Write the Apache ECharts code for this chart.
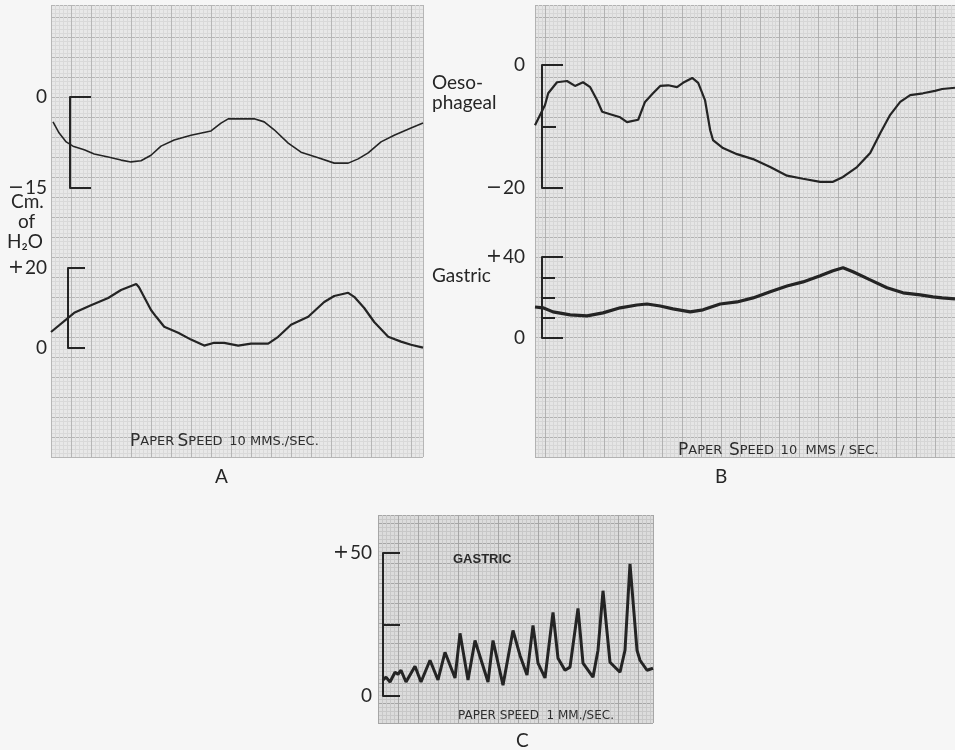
<!DOCTYPE html>
<html>
<head>
<meta charset="utf-8">
<script src="https://cdn.jsdelivr.net/npm/echarts@6/dist/echarts.min.js"></script>
<style>
  html, body { margin: 0; padding: 0; background: #f6f6f6; }
  #chart { width: 955px; height: 750px; }
</style>
</head>
<body>
<div id="chart"></div>
<script>
// time in seconds (paper speed 10 mm/s for A and B, 1 mm/s for C), pressure in cm H2O

// A, upper trace (oesophageal)
const timeA1 = [0.05, 0.2, 0.38, 0.55, 0.83, 1.08, 1.43, 1.75, 2.0, 2.25, 2.5, 2.75, 3.08, 3.5, 4.0, 4.25, 4.43,
  5.08, 5.33, 5.58, 5.93, 6.25, 6.68, 7.08, 7.43, 7.68, 7.93, 8.25, 8.58, 9.0, 9.3];
const pressA1 = [-4.1, -5.9, -7.4, -8.1, -8.7, -9.4, -9.9, -10.4, -10.7, -10.5, -9.6, -8.1, -7.1, -6.3, -5.6, -4.3, -3.6,
  -3.6, -4.1, -5.4, -7.6, -9.1, -10.0, -10.9, -10.9, -10.2, -9.2, -7.4, -6.3, -5.1, -4.3];

// A, lower trace (gastric)
const timeA2 = [0, 0.58, 1.0, 1.43, 1.75, 2.13, 2.2, 2.5, 2.63, 2.83, 3.18, 3.5, 3.83, 4.08, 4.33, 4.68,
  5.0, 5.43, 5.68, 6.0, 6.43, 6.83, 7.08, 7.43, 7.58, 7.83, 8.08, 8.43, 8.75, 9.0, 9.3];
const pressA2 = [4.0, 8.8, 10.7, 12.5, 14.5, 16.0, 15.2, 9.5, 7.8, 5.3, 3.8, 2.1, 0.6, 1.3, 1.3, 0.6,
  1.1, 1.1, 2.8, 5.8, 7.8, 11.5, 13.0, 13.8, 12.8, 10.0, 6.5, 2.8, 1.6, 0.8, 0.1];

// B, oesophageal
const timeB1 = [0, 0.25, 0.33, 0.55, 0.8, 1.0, 1.2, 1.38, 1.55, 1.68, 1.88, 2.13, 2.3, 2.58, 2.75,
  2.95, 3.13, 3.33, 3.55, 3.7, 3.93, 4.08, 4.25, 4.38, 4.45, 4.7, 5.05, 5.45, 5.88, 6.3,
  6.7, 7.13, 7.45, 7.7, 8.05, 8.38, 8.63, 8.88, 9.13, 9.38, 9.7, 10.0, 10.18, 10.5];
const pressB1 = [-9.8, -6.5, -4.6, -2.8, -2.6, -3.4, -2.8, -3.6, -5.7, -7.6, -8.0, -8.5, -9.3, -8.9, -6.0,
  -4.6, -3.4, -3.3, -3.6, -2.9, -2.1, -2.9, -5.7, -10.6, -12.2, -13.5, -14.5, -15.3, -16.6, -18.0,
  -18.5, -19.0, -19.0, -18.2, -16.6, -14.3, -11.1, -8.1, -6.0, -4.9, -4.6, -4.2, -3.9, -3.7];

// B, gastric
const timeB2 = [0, 0.2, 0.45, 0.88, 1.3, 1.7, 2.13, 2.55, 2.8, 3.13, 3.45, 3.88, 4.2, 4.63, 5.05,
  5.45, 5.88, 6.3, 6.7, 7.13, 7.45, 7.7, 7.95, 8.38, 8.8, 9.2, 9.63, 9.95, 10.18, 10.5];
const pressB2 = [15.3, 14.9, 12.9, 11.4, 10.9, 12.4, 14.9, 16.3, 16.8, 15.8, 14.4, 12.9, 13.9, 16.8, 17.8,
  19.8, 22.8, 25.7, 27.7, 30.7, 33.2, 34.7, 32.7, 28.7, 24.8, 22.3, 21.3, 20.3, 19.8, 19.3];

// C, gastric at 1 mm/s
const timeC = [1.25, 2, 3, 4.25, 5, 5.75, 7, 9.25, 10.75, 13, 15, 16.75, 19.25, 20.5, 22.5,
  24.25, 27.5, 28.75, 31.25, 33.75, 35.5, 37.25, 38.75, 40, 41.75, 43.75, 45, 46.75, 48, 50,
  51.25, 53.75, 55, 56.25, 58, 60.5, 61.75, 63, 64.75, 65.5, 67.25, 68.75];
const pressC = [5.6, 6.6, 4.9, 8.3, 7.6, 9.0, 4.9, 10.4, 4.9, 12.5, 5.6, 15.3, 6.3, 21.9, 5.6,
  19.4, 4.9, 19.4, 3.8, 22.9, 14.2, 7.3, 24.7, 11.5, 6.3, 29.2, 13.2, 9.0, 10.1, 30.6,
  11.5, 6.6, 16.0, 36.8, 11.8, 8.3, 16.0, 46.2, 16.0, 12.5, 9.0, 9.7];

const ink = '#242424';
const labelFont = 'Lato, "Open Sans", sans-serif';

function zip (xs, ys) {
  return xs.map((x, i) => [x, ys[i]]);
}

// graph paper background: axes in pixels, 20 px major squares, 4 px minor
function paperAxis (gridIndex, max, inverse, major, minor) {
  return {
    type: 'value', gridIndex, min: 0, max, interval: 20, inverse,
    axisLine: { show: false }, axisTick: { show: false }, axisLabel: { show: false },
    splitLine: { show: true, lineStyle: { color: major, width: 1 } },
    minorTick: { show: false, splitNumber: 5 },
    minorSplitLine: { show: true, lineStyle: { color: minor, width: 1 } }
  };
}

function hiddenX (gridIndex, max) {
  return { type: 'value', gridIndex, min: 0, max, show: false };
}

function hiddenY (gridIndex, min, max) {
  return { type: 'value', gridIndex, min, max, show: false };
}

// +/- signs drawn wider, like the printed figure
const signRich = {
  sg: { fontFamily: '"DejaVu Sans", sans-serif', fontSize: 19, color: '#262626', padding: [0, 1, 0, 0] }
};

function signed (v, top) {
  if (v === 0) return '0';
  return v > 0 ? '{sg|+}' + top : '{sg|\u2212}' + Math.abs(v);
}

// calibration bracket drawn as a y axis with inward ticks
function bracketAxis (gridIndex, min, max, interval, tickLen, minorSplit, minorLen, margin, fmt) {
  return {
    type: 'value', gridIndex, min, max, interval, z: 5,
    axisLine: { show: true, lineStyle: { color: ink, width: 2 } },
    axisTick: { show: true, inside: true, length: tickLen, lineStyle: { color: ink, width: 2 } },
    minorTick: { show: minorSplit > 1, splitNumber: minorSplit || 5, length: minorLen, lineStyle: { color: ink, width: 2 } },
    splitLine: { show: false },
    axisLabel: { show: true, margin, color: '#262626', fontFamily: labelFont, fontSize: 19, formatter: fmt, rich: signRich }
  };
}

function trace (name, idx, data, width) {
  return {
    name, type: 'line', xAxisIndex: idx, yAxisIndex: idx, data, z: 10,
    showSymbol: false, symbol: 'none', smooth: false,
    lineStyle: { color: ink, width },
    emphasis: { disabled: true }
  };
}

function txt (left, top, text, size, opts) {
  return {
    type: 'text', left, top, z: 100,
    style: Object.assign({ text, fill: '#262626', font: size + 'px ' + labelFont }, opts || {})
  };
}

const speedRich = {
  p: { fontSize: 17, fontFamily: '"DejaVu Sans", sans-serif', fill: '#2e2e2e' },
  s: { fontSize: 13, fontFamily: '"DejaVu Sans", sans-serif', fill: '#2e2e2e' }
};

const chart = echarts.init(document.getElementById('chart'));

const option = {
  backgroundColor: '#f6f6f6',
  animation: false,
  grid: [
    { left: 51, top: 5, width: 372, height: 452, show: true, backgroundColor: '#e8e8e8', borderWidth: 0 },
    { left: 535, top: 5, width: 431, height: 452, show: true, backgroundColor: '#e5e5e5', borderWidth: 0 },
    { left: 378, top: 515, width: 275, height: 208, show: true, backgroundColor: '#dcdcdc', borderWidth: 0 },
    { left: 51, top: 97, width: 372, height: 91 },
    { left: 51, top: 268, width: 372, height: 80 },
    { left: 535, top: 65, width: 420, height: 123 },
    { left: 535, top: 257, width: 420, height: 81 },
    { left: 378, top: 553, width: 275, height: 143 },
    { left: 70, top: 97, width: 22, height: 91 },
    { left: 68, top: 268, width: 22, height: 80 },
    { left: 542, top: 65, width: 22, height: 123 },
    { left: 542, top: 257, width: 22, height: 81 },
    { left: 383, top: 553, width: 22, height: 143 }
  ],
  xAxis: [
    paperAxis(0, 372, false, '#b6b6b6', '#d9d9d9'),
    paperAxis(1, 431, true, '#b2b2b2', '#d6d6d6'),
    paperAxis(2, 275, false, '#a6a6a6', '#c8c8c8'),
    hiddenX(3, 9.3),
    hiddenX(4, 9.3),
    hiddenX(5, 10.5),
    hiddenX(6, 10.5),
    hiddenX(7, 68.75),
    hiddenX(8, 1), hiddenX(9, 1), hiddenX(10, 1), hiddenX(11, 1), hiddenX(12, 1)
  ],
  yAxis: [
    paperAxis(0, 452, false, '#b6b6b6', '#d9d9d9'),
    paperAxis(1, 452, false, '#b2b2b2', '#d6d6d6'),
    paperAxis(2, 208, false, '#a6a6a6', '#c8c8c8'),
    hiddenY(3, -15, 0),
    hiddenY(4, 0, 20),
    hiddenY(5, -20, 0),
    hiddenY(6, 0, 40),
    hiddenY(7, 0, 50),
    bracketAxis(8, -15, 0, 15, 21, 0, 0, 23, v => signed(v)),
    bracketAxis(9, 0, 20, 20, 17, 0, 0, 21, v => signed(v, 20)),
    bracketAxis(10, -20, 0, 20, 21, 2, 14, 17, v => signed(v)),
    bracketAxis(11, 0, 40, 40, 21, 4, 13, 17, v => signed(v, 40)),
    bracketAxis(12, 0, 50, 25, 17, 0, 0, 11, v => (v === 25 ? '' : signed(v, 50)))
  ],
  series: [
    trace('A oesophageal', 3, zip(timeA1, pressA1), 1.6),
    trace('A gastric', 4, zip(timeA2, pressA2), 2.2),
    trace('B oesophageal', 5, zip(timeB1, pressB1), 2.2),
    trace('B gastric', 6, zip(timeB2, pressB2), 3.2),
    trace('C gastric', 7, zip(timeC, pressC), 3)
  ],
  graphic: [
    txt(11, 192, 'Cm.', 19),
    txt(18, 212, 'of', 19),
    txt(7, 232, 'H\u2082O', 19),
    txt(432, 73, 'Oeso-', 19),
    txt(432, 93, 'phageal', 19),
    txt(432, 266, 'Gastric', 19),
    txt(453, 553, 'GASTRIC', 13, { font: 'bold 13px "Liberation Sans", sans-serif', fill: '#2a2a2a' }),
    txt(130, 433, '{p|P}{s|APER} {p|S}{s|PEED}  {s|10 MMS./SEC.}', 13, { rich: speedRich }),
    txt(678, 442, '{p|P}{s|APER}  {p|S}{s|PEED}  {s|10  MMS / SEC.}', 13, { rich: speedRich }),
    txt(458, 710, 'PAPER SPEED  1 MM./SEC.', 12, { font: '12px "DejaVu Sans", sans-serif', fill: '#2e2e2e' }),
    txt(215, 467, 'A', 19),
    txt(715, 467, 'B', 19),
    txt(516, 731, 'C', 19)
  ]
};

chart.setOption(option);
</script>
</body>
</html>
